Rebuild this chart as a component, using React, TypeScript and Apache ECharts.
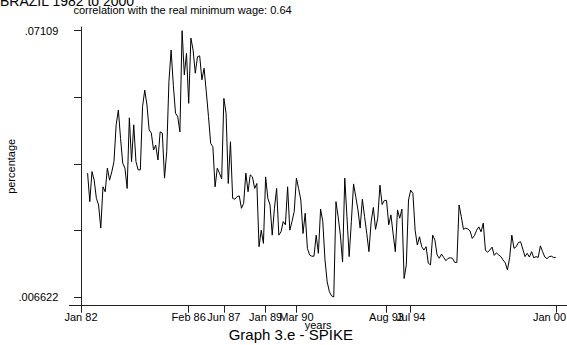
import { useEffect, useRef } from "react";
import * as echarts from "echarts";

// Monthly series, months counted from Jan 1982 (index 0). First observation: Apr 1982.
const firstMonth = 3;
const spikeShare = [
  0.0366, 0.0297, 0.0370, 0.0349, 0.0305, 0.0289, 0.0233, 0.0333, 0.0321, 0.0378, 0.0349, 0.0369,
  0.0394, 0.0483, 0.0519, 0.0450, 0.0390, 0.0378, 0.0329, 0.0500, 0.0394, 0.0483, 0.0394, 0.0374,
  0.0374, 0.0527, 0.0567, 0.0531, 0.0471, 0.0463, 0.0422, 0.0434, 0.0398, 0.0466, 0.0463, 0.0354,
  0.0418, 0.0587, 0.0664, 0.0579, 0.0511, 0.0503, 0.0466, 0.07109, 0.0604, 0.0656, 0.0535, 0.0693,
  0.0664, 0.0608, 0.0648, 0.0650, 0.0592, 0.0620, 0.0563, 0.0503, 0.0438, 0.0430, 0.0333, 0.0378,
  0.0366, 0.0352, 0.0547, 0.0511, 0.0341, 0.0442, 0.0305, 0.0303, 0.0309, 0.0311, 0.0281, 0.0293,
  0.0366, 0.0321, 0.0362, 0.0357, 0.0329, 0.0341, 0.0188, 0.0228, 0.0196, 0.0357, 0.0305, 0.0289,
  0.0216, 0.0281, 0.0329, 0.0216, 0.0224, 0.0249, 0.0241, 0.0333, 0.0228, 0.0249, 0.0273, 0.0354,
  0.0329, 0.0301, 0.0220, 0.0269, 0.0184, 0.0168, 0.0165, 0.0165, 0.0216, 0.0172, 0.0279, 0.0249,
  0.0156, 0.0103, 0.0079, 0.0069, 0.006622, 0.0297, 0.0260, 0.0216, 0.0151, 0.0354, 0.0260, 0.0164,
  0.0249, 0.0340, 0.0309, 0.0277, 0.0233, 0.0303, 0.0261, 0.0220, 0.0176, 0.0248, 0.0283, 0.0230,
  0.0257, 0.0337, 0.0290, 0.0300, 0.0300, 0.0241, 0.0265, 0.0219, 0.0176, 0.0277, 0.0257, 0.0279,
  0.0111, 0.0144, 0.0301, 0.0325, 0.0317, 0.0228, 0.0192, 0.0212, 0.0188, 0.0180, 0.0188, 0.0148,
  0.0144, 0.0216, 0.0204, 0.0168, 0.0160, 0.0170, 0.0162, 0.0154, 0.0160, 0.0161, 0.0160, 0.0150,
  0.0150, 0.0289, 0.0261, 0.0230, 0.0233, 0.0231, 0.0226, 0.0208, 0.0215, 0.0228, 0.0236, 0.0224,
  0.0245, 0.0179, 0.0175, 0.0180, 0.0187, 0.0167, 0.0173, 0.0168, 0.0164, 0.0156, 0.0149, 0.0132,
  0.0161, 0.0216, 0.0184, 0.0188, 0.0198, 0.0200, 0.0182, 0.0164, 0.0172, 0.0163, 0.0176, 0.0161,
  0.0164, 0.0162, 0.0190, 0.0176, 0.0163, 0.0159, 0.0164, 0.0165, 0.0162, 0.0162,
];

const xTickMonths = [0, 49, 65, 84, 98, 139, 150, 216];
const xTickLabels = ["Jan 82", "Feb 86", "Jun 87", "Jan 89", "Mar 90", "Aug 93", "Jul 94", "Jan 00"];

const yTickValues = [0.006622, 0.022739, 0.038856, 0.054973, 0.07109];
const yLabelValues = [0.006622, 0.07109];
const yLabelTexts = [".006622", ".07109"];

const FONT = "'Liberation Sans', Arial, Helvetica, sans-serif";
const INK = "#000";

export default function App() {
  const ref = useRef<HTMLDivElement>(null);

  useEffect(() => {
    if (!ref.current) return;
    const chart = echarts.init(ref.current, undefined, { renderer: "svg" });

    const seriesData = spikeShare.map((v, i) => [firstMonth + i, v]);

    chart.setOption({
      animation: false,
      backgroundColor: "#fff",
      grid: {
        left: 69.3,
        right: 0,
        top: 27,
        bottom: 39.3,
        containLabel: false,
        outerBoundsMode: "none",
      },
      xAxis: {
        type: "value",
        min: -5.32,
        max: 221.1,
        name: "years",
        nameLocation: "middle",
        nameGap: 14,
        nameMoveOverlap: false,
        nameTextStyle: { fontFamily: FONT, fontSize: 11, color: INK },
        axisLine: { show: true, lineStyle: { color: "#222", width: 1 } },
        axisTick: { show: true, length: 7, customValues: xTickMonths, lineStyle: { color: "#222" } },
        axisLabel: {
          customValues: xTickMonths,
          hideOverlap: false,
          margin: 6,
          fontFamily: FONT,
          fontSize: 11,
          color: INK,
          formatter: (v: number) => {
            const i = xTickMonths.findIndex((m) => Math.abs(m - v) < 0.01);
            if (i < 0) return "";
            if (i === xTickMonths.length - 1) return "{last|" + xTickLabels[i] + "}";
            return xTickLabels[i];
          },
          rich: {
            last: { fontFamily: FONT, fontSize: 11, color: INK, padding: [0, 12.6, 0, 0] },
          },
        },
        splitLine: { show: false },
      },
      yAxis: {
        type: "value",
        min: 0.004516,
        max: 0.071986,
        name: "percentage",
        nameLocation: "middle",
        nameGap: 53,
        nameMoveOverlap: false,
        nameTextStyle: { fontFamily: FONT, fontSize: 11, color: INK },
        axisLine: { show: true, lineStyle: { color: "#222", width: 1 } },
        axisTick: { show: true, length: 7, customValues: yTickValues, lineStyle: { color: "#222" } },
        axisLabel: {
          customValues: yLabelValues,
          margin: 11,
          fontFamily: FONT,
          fontSize: 11,
          color: INK,
          formatter: (v: number) => {
            const i = yLabelValues.findIndex((y) => Math.abs(y - v) < 1e-7);
            return i < 0 ? "" : yLabelTexts[i];
          },
        },
        splitLine: { show: false },
      },
      graphic: [
        {
          type: "text",
          x: 0,
          y: 1,
          style: {
            text: "BRAZIL 1982 to 2000",
            fontFamily: FONT,
            fontSize: 14,
            fill: INK,
            align: "left",
            verticalAlign: "middle",
          },
        },
        {
          type: "text",
          x: 182.5,
          y: 10,
          style: {
            text: "correlation with the real minimum wage: 0.64",
            fontFamily: FONT,
            fontSize: 11,
            fill: INK,
            align: "center",
            verticalAlign: "middle",
          },
        },
        {
          type: "text",
          x: 290.8,
          y: 334,
          style: {
            text: "Graph 3.e - SPIKE",
            fontFamily: FONT,
            fontSize: 15,
            fill: INK,
            align: "center",
            verticalAlign: "middle",
          },
        },
      ],
      series: [
        {
          type: "line",
          data: seriesData,
          showSymbol: false,
          symbol: "none",
          lineStyle: { color: INK, width: 1 },
          silent: true,
        },
      ],
    });

    return () => {
      chart.dispose();
    };
  }, []);

  return (
    <div
      ref={ref}
      style={{ position: "absolute", left: 0, top: 0, width: 567, height: 345, background: "#fff" }}
    />
  );
}
